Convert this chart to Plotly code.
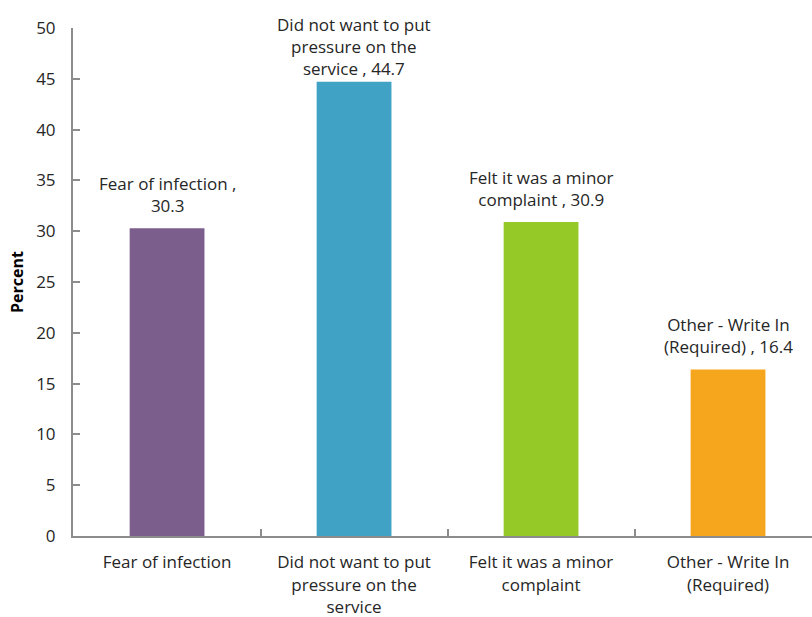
import plotly.graph_objects as go

categories = ["Fear of infection", "Did not want to put<br>pressure on the<br>service",
              "Felt it was a minor<br>complaint", "Other - Write In<br>(Required)"]
values = [30.3, 44.7, 30.9, 16.4]
value_labels = ["Fear of infection ,<br>30.3", "Did not want to put<br>pressure on the<br>service , 44.7",
                "Felt it was a minor<br>complaint , 30.9", "Other - Write In<br>(Required) , 16.4"]
colors = ["#7B5E8C", "#40A2C4", "#95C928", "#F5A61C"]
y_ticks = [0, 5, 10, 15, 20, 25, 30, 35, 40, 45, 50]

FONT = "Open Sans"
TXT = "#262626"
label_shift = [9, 0, 9, 9]

fig = go.Figure()
fig.add_trace(go.Bar(
    x=categories, y=values,
    marker=dict(color=colors, line=dict(width=0)),
    width=0.40,
    showlegend=False,
))
for c, v, t, s in zip(categories, values, value_labels, label_shift):
    fig.add_annotation(x=c, y=v, text=t, showarrow=False, yanchor="bottom",
                       yshift=s, font=dict(family=FONT, size=17, color=TXT))

fig.update_layout(
    width=812, height=617,
    margin=dict(l=73, r=0, t=28, b=81),
    plot_bgcolor="white", paper_bgcolor="white",
    font=dict(family=FONT, size=17, color=TXT),
)
fig.update_xaxes(
    type="category",
    range=[-0.503, 3.449],
    showline=True, linecolor="#8c8c8c", linewidth=2,
    ticks="inside", ticklen=7, tickcolor="#8c8c8c", tickwidth=1.5,
    tickson="boundaries",
    showgrid=False, zeroline=False,
    ticklabelstandoff=10,
    tickfont=dict(family=FONT, size=17, color=TXT),
)
fig.update_yaxes(
    range=[0, 50], tickvals=y_ticks,
    showline=True, linecolor="#8c8c8c", linewidth=2,
    ticks="inside", ticklen=7, tickcolor="#8c8c8c", tickwidth=1.5,
    showgrid=False, zeroline=False,
    ticklabelstandoff=12,
    tickfont=dict(family=FONT, size=17, color=TXT),
    title=dict(text="<b>Percent</b>", font=dict(family=FONT, size=16, color="#000"), standoff=9),
)
fig.write_html("out.html")
